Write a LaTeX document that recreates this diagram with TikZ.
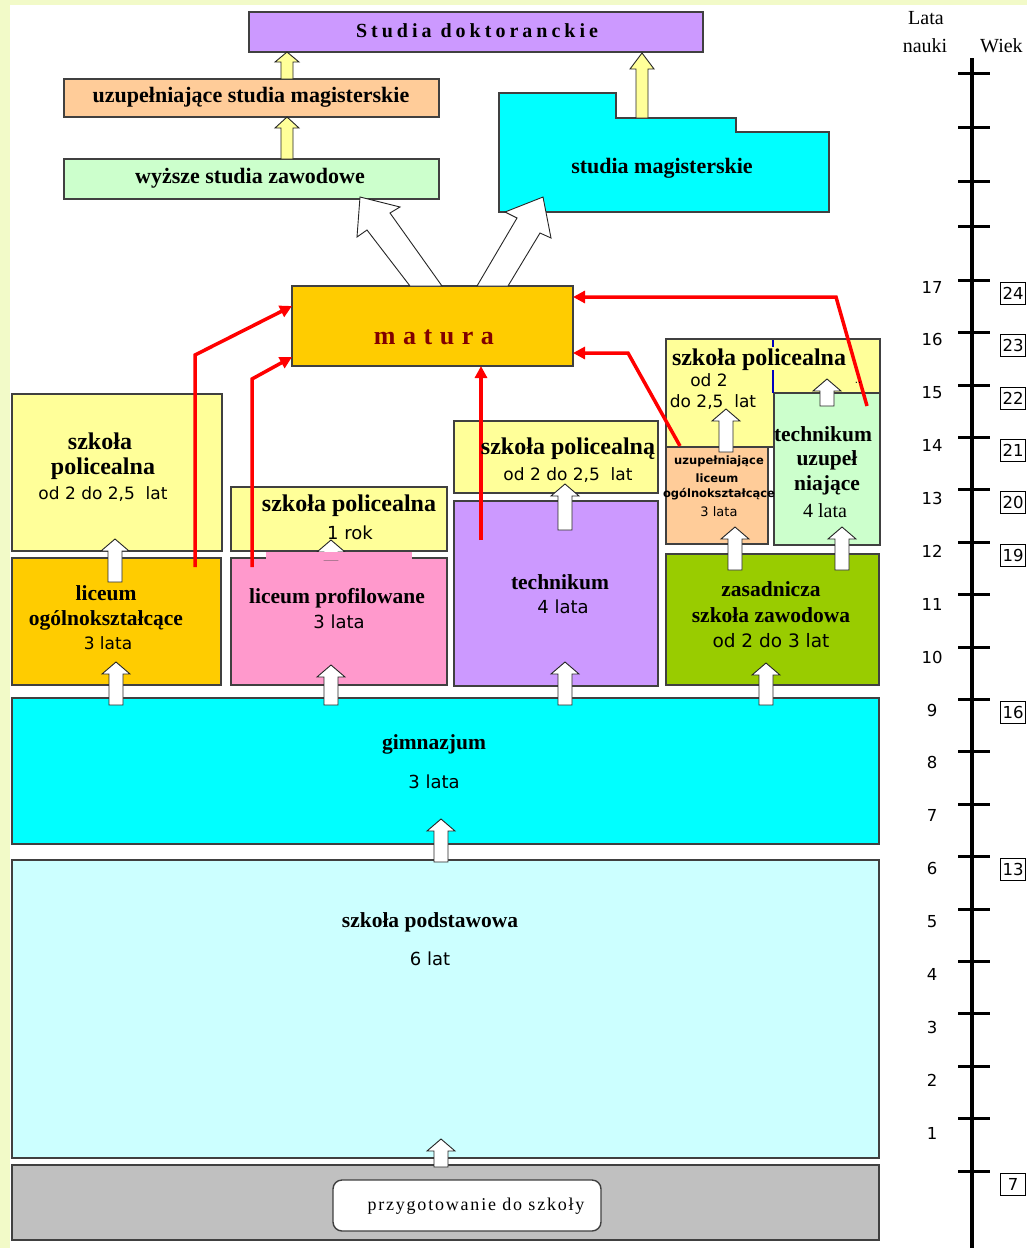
\documentclass[tikz,border=0pt]{standalone}
\usepackage{fontspec}
\setmainfont{Liberation Serif}
\setsansfont{DejaVu Sans}
\newfontfamily\spacedserif[LetterSpace=20]{Liberation Serif}
\newfontfamily\maturafont[LetterSpace=29]{Liberation Serif}
\newfontfamily\przygfont[LetterSpace=10]{Liberation Serif}
\usetikzlibrary{arrows.meta,calc}
\definecolor{bgyellow}{RGB}{242,250,200}
\definecolor{lav}{HTML}{CC99FF}
\definecolor{peach}{HTML}{FFCC99}
\definecolor{mint}{HTML}{CCFFCC}
\definecolor{cyanc}{HTML}{00FFFF}
\definecolor{gold}{HTML}{FFCC00}
\definecolor{yel}{HTML}{FFFF99}
\definecolor{pinkc}{HTML}{FF99CC}
\definecolor{olive}{HTML}{99CC00}
\definecolor{lcyan}{HTML}{CCFFFF}
\definecolor{grayc}{HTML}{C0C0C0}
\definecolor{boxline}{HTML}{404040}
\definecolor{maturared}{HTML}{800000}
\definecolor{redc}{HTML}{FF0000}
\newcommand\bx[6]{\node[box,fill=#2,anchor=north west,minimum width=#5-#3,minimum height=#6-#4] (#1) at (#3,#4) {};}
\newcommand\warr[3]{\draw[blockarr] (#1-7,#3) -- (#1-7,#2+12) -- (#1-14,#2+12) -- (#1,#2) -- (#1+14,#2+12) -- (#1+7,#2+12) -- (#1+7,#3) -- cycle;}
\newcommand\yarr[4]{\draw[blockarr,fill=yel] (#1-6,#3) -- (#1-6,#2+#4) -- (#1-12,#2+#4) -- (#1,#2) -- (#1+12,#2+#4) -- (#1+6,#2+#4) -- (#1+6,#3) -- cycle;}
\begin{document}
\begin{tikzpicture}[x=1pt,y=-1pt,
  box/.style={draw=boxline,line width=1.4pt,inner sep=0pt,outer sep=0pt},
  blockarr/.style={draw=black!85,line width=0.9pt,fill=white,line join=miter},
  redarr/.style={draw=redc,line width=3.5pt,-{Triangle[length=12pt,width=12pt]},line join=miter},
  sb/.style={font=\bfseries\fontsize{#1}{#1}\selectfont,inner sep=0pt},
  ss/.style={font=\sffamily\fontsize{#1}{#1}\selectfont,inner sep=0pt},
  ssb/.style={font=\sffamily\bfseries\fontsize{#1}{#1}\selectfont,inner sep=0pt},
  sr/.style={font=\fontsize{#1}{#1}\selectfont,inner sep=0pt},
  scaletick/.style={line width=3pt},
  agebox/.style={draw,line width=0.8pt,font=\sffamily\fontsize{16.5}{16.5}\selectfont,minimum width=25pt,minimum height=22pt,inner sep=0pt}]
\fill[bgyellow] (0,0) rectangle (1027,1248);
\fill[white] (10,5) rectangle (1027,1248);
\useasboundingbox (0,0) rectangle (1027,1248);

% boxes
\bx{doktor}{lav}{249}{12}{703}{52}
\bx{uzmag}{peach}{64}{79}{439}{117}
\bx{wyz}{mint}{64}{159}{439}{199}
\draw[box,fill=cyanc] (499,93) -- (616,93) -- (616,118) -- (736,118) -- (736,132) -- (829,132) -- (829,212) -- (499,212) -- cycle;
\bx{matura}{gold}{292}{286}{573}{366}
\bx{polL}{yel}{12}{394}{222}{551}
\bx{lo}{gold}{12}{558}{221}{685}
\bx{pol1}{yel}{231}{487}{447}{551}
\bx{lp}{pinkc}{231}{558}{447}{685}
\bx{polM}{yel}{454}{421}{658}{493}
\bx{tech}{lav}{454}{501}{658}{686}
\bx{polR}{yel}{666}{339}{880}{447}
\bx{ulo}{peach}{666}{447}{768}{544}
\bx{tu}{mint}{774}{393}{880}{545}
\bx{zsz}{olive}{666}{554}{879}{685}
\bx{gim}{cyanc}{12}{698}{879}{844}
\bx{sp}{lcyan}{12}{860}{879}{1158}
\bx{prz}{grayc}{12}{1165}{879}{1240}
\node[box,fill=white,rounded corners=9pt,anchor=north west,minimum width=268,minimum height=51] (przbox) at (333,1180) {};

% yellow arrows
\yarr{287}{52}{79}{10}
\yarr{287}{117}{159}{11}
\yarr{642}{53}{118}{16}

% big white arrows
\draw[blockarr] (410,286) -- (367,230) -- (357,237) -- (360,197) -- (400,207) -- (390,213) -- (442,286) -- cycle;
\draw[blockarr] (477,286) -- (517,218) -- (505,212) -- (543,197) -- (551,238) -- (540,233) -- (508,286) -- cycle;

% small white arrows
\warr{115}{539}{582}
\warr{116}{662}{705}
\warr{331}{540}{560}
\warr{331}{665}{705}
\warr{565}{484}{530}
\warr{565}{662}{705}
\warr{726}{409}{452}
\warr{735}{527}{570}
\warr{842}{527}{570}
\warr{827}{379}{406}
\warr{766}{663}{705}
\warr{441}{819}{862}
\warr{441}{1139}{1167}
\fill[pinkc] (266,552) rectangle (412,560);

% blue marks
\draw[blue!75!black,line width=2pt] (773,340) -- (773,347);
\draw[blue!75!black,line width=2pt] (773,370) -- (773,393);

% red connectors
\coordinate (r1s) at (195,567); \coordinate (r1b) at (195,355);
\draw[redarr] (r1s) -- (r1b) -- ($(matura.west)+(0,-20)$);
\coordinate (r2s) at (252,567); \coordinate (r2b) at (252,379);
\draw[redarr] (r2s) -- (r2b) -- ($(matura.west)+(0,31)$);
\coordinate (r3s) at (481,540);
\draw[redarr] (r3s) -- (r3s |- matura.south);
\coordinate (r4s) at (680,446); \coordinate (r4b) at (628,353);
\draw[redarr] (r4s) -- (r4b) -- (matura.east |- r4b);
\coordinate (r5s) at (867,406); \coordinate (r5b) at (836,297);
\draw[redarr] (r5s) -- (r5b) -- (matura.east |- r5b);

% texts
\node[font=\spacedserif\bfseries\fontsize{20}{20}\selectfont,inner sep=0pt] (tdok) at (477,31) {Studia doktoranckie};
\node[sb=22] (tuzmag) at (251,97) {uzupełniające studia magisterskie};
\node[sb=22] (twyz) at (250,178) {wyższe studia zawodowe};
\node[sb=22] (tsmag) at (662,168) {studia magisterskie};
\node[font=\maturafont\bfseries\fontsize{26}{26}\selectfont,text=maturared,inner sep=0pt] (tmat) at (434,337) {matura};

\node[sb=24] (tpolL1) at (100,441) {szkoła};
\node[sb=24] (tpolL2) at (103,469) {policealna};
\node[ss=17] (tpolL3) at (103,494) {od 2 do 2,5\ \ lat};

\node[sb=21.5] (tlo1) at (106,593) {liceum};
\node[sb=21.5] (tlo2) at (106,620) {ogólnokształcące};
\node[ss=17] (tlo3) at (108,643) {3 lata};

\node[sb=24] (tpol11) at (349,506) {szkoła policealna};
\node[ss=18] (tpol12) at (350,533) {1 rok};

\node[sb=21.5] (tlp1) at (337,598) {liceum profilowane};
\node[ss=18] (tlp2) at (339,622) {3 lata};

\node[sb=24] (tpolM1) at (568,449) {szkoła policealną};
\node[ss=17] (tpolM2) at (568,475) {od 2 do 2,5\ \ lat};

\node[sb=21.5] (ttech1) at (560,582) {technikum};
\node[ss=18] (ttech2) at (563,607) {4 lata};

\node[sb=24] (tpolR1) at (759,360) {szkoła policealna};
\node[ss=17] (tpolR2) at (709,380) {od 2};
\node[ss=17] (tpolR3) at (713,402) {do 2,5\ \ lat};
\node[ss=10] (tdots) at (858,383) {..};

\node[ssb=11.5] (tulo1) at (719,461) {uzupełniające};
\node[ssb=11.5] (tulo2) at (717,478) {liceum};
\node[ssb=11.5] (tulo3) at (719,494) {ogólnokształcące};
\node[ss=13] (tulo4) at (719,512) {3 lata};

\node[sb=21.5] (ttu1) at (823,434) {technikum};
\node[sb=21.5] (ttu2) at (827,460) {uzupeł};
\node[sb=21.5] (ttu3) at (827,485) {niające};
\node[sr=20] (ttu4) at (825,511) {4 lata};

\node[sb=21.5] (tzsz1) at (771,589) {zasadnicza};
\node[sb=21.5] (tzsz2) at (771,615) {szkoła zawodowa};
\node[ss=18.5] (tzsz3) at (771,641) {od 2 do 3 lat};

\node[sb=21.5] (tgim1) at (434,744) {gimnazjum};
\node[ss=18] (tgim2) at (434,782) {3 lata};

\node[sb=21.5] (tsp1) at (430,922) {szkoła podstawowa};
\node[ss=18] (tsp2) at (430,959) {6 lat};

\node[font=\przygfont\fontsize{18}{18}\selectfont,inner sep=0pt] (tprz) at (476,1206) {przygotowanie do szkoły};

% scale
\node[sr=20] (tlata) at (926,18) {Lata};
\node[sr=20] (tnauki) at (925,46) {nauki};
\node[sr=20,anchor=west] (twiek) at (980,46) {Wiek};
\draw[line width=4pt] (972,58) coordinate (axtop) -- (972,1248) coordinate (axbot);
\foreach \y in {73,127,181,226} \draw[scaletick] (958,\y) -- (990,\y);
\foreach \n in {0,...,17} {
  \pgfmathsetmacro\ty{1171-52.4*\n}
  \draw[scaletick] (958,\ty) -- (990,\ty);
}
\foreach \n in {1,...,17} {
  \pgfmathsetmacro\ly{287+52.875*(17-\n)}
  \node[ss=16.5] (lab\n) at (932,\ly) {\n};
}
\foreach \a/\n in {24/17,23/16,22/15,21/14,20/13,19/12,16/9,13/6,7/0} {
  \pgfmathsetmacro\ay{1171-52.4*\n+13}
  \node[agebox] (age\a) at (1013,\ay) {\a};
}
\end{tikzpicture}
\end{document}
